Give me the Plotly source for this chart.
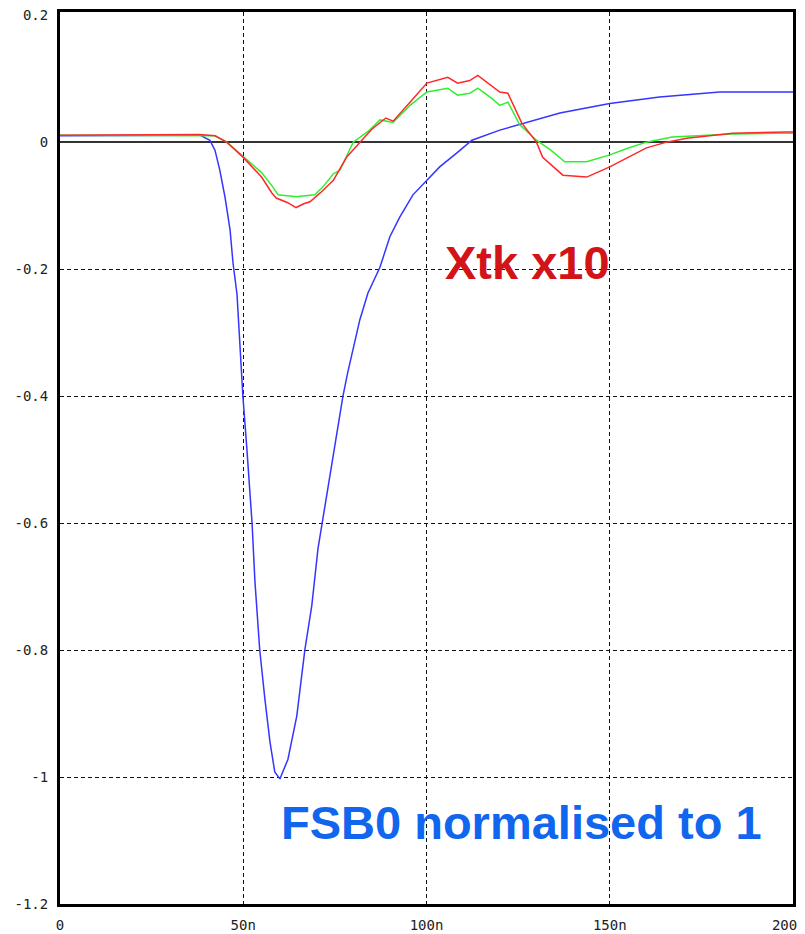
import plotly.graph_objects as go

# ---- data (time in ns, amplitude) ----
fsb0_t = [0, 20, 38.2, 40.9, 42.3, 43.6, 45.0, 46.4, 47.2, 48.3, 48.8, 49.6, 49.9, 51.0,
          52.4, 53.2, 54.5, 55.9, 57.3, 58.6, 60.0, 62.2, 64.6, 66.8, 68.7, 70.4, 73.6,
          77.2, 78.5, 81.8, 84.0, 87.3, 90.0, 92.7, 96.3, 100.1, 103.6, 108.3, 112.4,
          120, 136.4, 150, 163.6, 180, 199, 200]
fsb0_v = [0.010, 0.010, 0.011, 0.003, -0.013, -0.044, -0.086, -0.138, -0.190, -0.240,
          -0.296, -0.363, -0.400, -0.484, -0.600, -0.693, -0.800, -0.877, -0.945, -0.992,
          -1.003, -0.972, -0.904, -0.800, -0.730, -0.640, -0.528, -0.400, -0.363, -0.280,
          -0.238, -0.197, -0.149, -0.118, -0.083, -0.060, -0.039, -0.017, 0.003,
          0.019, 0.046, 0.061, 0.071, 0.079, 0.079, 0.079]

red_t = [0, 20, 38, 42.3, 45.5, 50, 55, 57.8, 59, 62, 64.4, 66.5, 68.2, 71, 74.6, 78.3,
         81.8, 85, 88.9, 90.9, 95.5, 100.1, 105.8, 108.5, 111.8, 114, 120, 122.2, 126,
         130, 131.7, 137.2, 143.7, 150, 160, 165.5, 171, 183.5, 198, 200]
red_v = [0.011, 0.011, 0.012, 0.010, 0.000, -0.024, -0.055, -0.080, -0.088, -0.095,
         -0.103, -0.097, -0.094, -0.080, -0.060, -0.023, 0.000, 0.020, 0.038, 0.033,
         0.063, 0.093, 0.102, 0.093, 0.097, 0.105, 0.079, 0.077, 0.030, 0.000, -0.024,
         -0.052, -0.055, -0.039, -0.009, 0.000, 0.006, 0.014, 0.016, 0.016]

green_t = [0, 20, 38, 42.3, 45.5, 50, 55, 58, 59.5, 64.5, 69.5, 71.5, 74.6, 76.4, 80,
           84.5, 87.3, 90.9, 95.5, 100.1, 105.8, 108.5, 111.8, 114, 117.8, 120, 122.2,
           125.5, 130, 134, 137.7, 143.7, 150, 154.7, 160, 167, 183.5, 198, 200]
green_v = [0.011, 0.011, 0.011, 0.010, 0.000, -0.022, -0.048, -0.070, -0.083, -0.086,
           -0.083, -0.072, -0.050, -0.044, 0.000, 0.019, 0.035, 0.031, 0.058, 0.079,
           0.085, 0.074, 0.077, 0.085, 0.069, 0.058, 0.063, 0.027, 0.003, -0.013,
           -0.031, -0.031, -0.020, -0.010, 0.000, 0.008, 0.013, 0.014, 0.014]

x_tickvals = [0, 50, 100, 150, 200]
x_ticktext = ["0", "50n", "100n", "150n", "200&nbsp;&nbsp;"]
y_tickvals = [0.2, 0, -0.2, -0.4, -0.6, -0.8, -1.0, -1.2]
y_ticktext = ["0.2", "0", "-0.2", "-0.4", "-0.6", "-0.8", "-1", "-1.2"]
y_gridvals = [-0.2, -0.4, -0.6, -0.8, -1.0]

fig = go.Figure()
fig.add_trace(go.Scatter(x=fsb0_t, y=fsb0_v, mode="lines",
                         line=dict(color="#3535ff", width=1.5), showlegend=False))
fig.add_trace(go.Scatter(x=green_t, y=green_v, mode="lines",
                         line=dict(color="#30ee30", width=1.5), showlegend=False))
fig.add_trace(go.Scatter(x=red_t, y=red_v, mode="lines",
                         line=dict(color="#ff2828", width=1.5), showlegend=False))
# invisible trace on overlay axis for grid
fig.add_trace(go.Scatter(x=[None], y=[None], yaxis="y2", showlegend=False, hoverinfo="skip"))

tickfont = dict(family="DejaVu Sans Mono", size=14, color="#222222")
YR = [-1.2, 0.205]

fig.update_layout(
    width=805, height=934,
    margin=dict(l=60, r=12, t=12, b=30),
    paper_bgcolor="white", plot_bgcolor="white",
    xaxis=dict(range=[0, 200], tickvals=x_tickvals, ticktext=x_ticktext,
               showgrid=True, gridcolor="#111111", gridwidth=1, griddash="4px,3px",
               zeroline=False, showline=True, linecolor="black", linewidth=3,
               mirror=True, ticks="", tickfont=tickfont, ticklabelstandoff=6,
               automargin=False, ticklabeloverflow="allow"),
    yaxis=dict(range=YR, tickvals=y_tickvals, ticktext=y_ticktext,
               showgrid=False, zeroline=True, zerolinecolor="#333333", zerolinewidth=2,
               showline=True, linecolor="black", linewidth=3, mirror=True,
               ticks="", tickfont=tickfont, ticklabelstandoff=6, automargin=False,
               ticklabeloverflow="allow"),
    yaxis2=dict(range=YR, overlaying="y", tickvals=y_gridvals, showticklabels=False,
                showgrid=True, gridcolor="#111111", gridwidth=1, griddash="4px,3px",
                zeroline=False, showline=False, ticks="", automargin=False),
    annotations=[
        dict(x=127.6, y=-0.189, xref="x", yref="y", text="<b>Xtk x10</b>",
             showarrow=False, xanchor="center", yanchor="middle",
             font=dict(family="Liberation Sans", size=47, color="#d21418")),
        dict(x=126, y=-1.071, xref="x", yref="y", text="<b>FSB0 normalised to 1</b>",
             showarrow=False, xanchor="center", yanchor="middle",
             font=dict(family="Liberation Sans", size=47, color="#1166ee")),
    ],
)

fig.write_html("out.html")
